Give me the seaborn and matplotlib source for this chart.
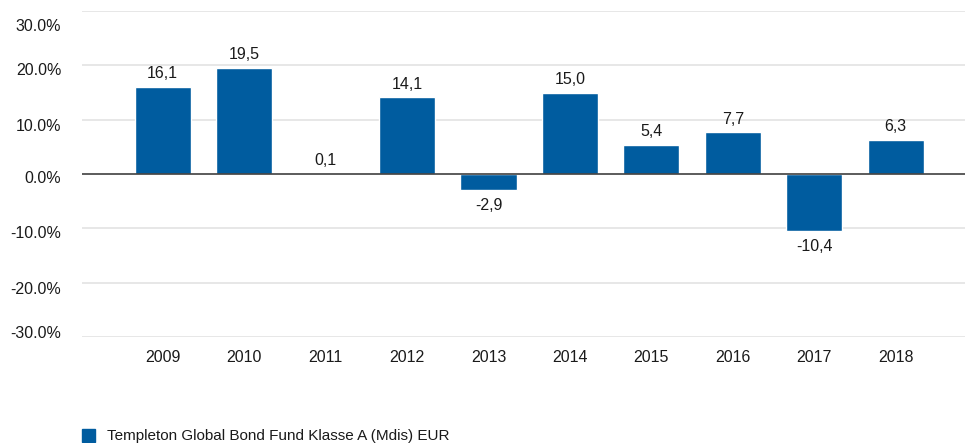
import matplotlib
matplotlib.use("Agg")
import matplotlib.pyplot as plt
import matplotlib.transforms as mtransforms
import seaborn as sns
import pandas as pd

years = ["2009", "2010", "2011", "2012", "2013", "2014", "2015", "2016", "2017", "2018"]
values = [16.1, 19.5, 0.1, 14.1, -2.9, 15.0, 5.4, 7.7, -10.4, 6.3]
labels = ["16,1", "19,5", "0,1", "14,1", "-2,9", "15,0", "5,4", "7,7", "-10,4", "6,3"]
yticks = [30, 20, 10, 0, -10, -20, -30]
ytick_labels = ["30.0%", "20.0%", "10.0%", "0.0%", "-10.0%", "-20.0%", "-30.0%"]
series_name = "Templeton Global Bond Fund Klasse A (Mdis) EUR"

# layout: vertical nudge (in pixels, positive = down) of each y tick label
ytick_nudge_px = [14, 4, 5, 3, 4, 5, -5]

sns.set_theme(style="white")
plt.rcParams["font.family"] = ["Liberation Sans", "DejaVu Sans"]

df = pd.DataFrame({"year": years, "value": values})
color = "#005C9F"

fig = plt.figure(figsize=(9.65, 4.43), dpi=100)
ax = fig.add_axes([82 / 965, 1 - 337 / 443, 1 - 82 / 965, (337 - 11) / 443])

sns.barplot(data=df, x="year", y="value", color=color, width=0.69,
            saturation=1, ax=ax, zorder=3)

ax.set_ylim(-30, 30)
ax.set_xlim(-0.99, 9.85)
ax.set_yticks(yticks)
ax.set_yticklabels(ytick_labels)
for y in yticks:
    if y == 0:
        ax.axhline(0, color="#404040", lw=1.2, zorder=4)
    else:
        ax.axhline(y, color="#e3e3e3", lw=1.2, zorder=1)

for i, (v, lab) in enumerate(zip(values, labels)):
    if v >= 0:
        ax.annotate(lab, (i, v), xytext=(0, 4), textcoords="offset points",
                    ha="center", va="bottom", fontsize=11.5, color="#1a1a1a")
    else:
        ax.annotate(lab, (i, v), xytext=(0, -6), textcoords="offset points",
                    ha="center", va="top", fontsize=11.5, color="#1a1a1a")

for s in ax.spines.values():
    s.set_visible(False)
ax.set_xlabel("")
ax.set_ylabel("")
ax.tick_params(axis="y", length=0, pad=15, labelsize=11.5, labelcolor="#1a1a1a")
ax.tick_params(axis="x", length=0, pad=9, labelsize=11.5, labelcolor="#1a1a1a")

for lab, nudge in zip(ax.get_yticklabels(), ytick_nudge_px):
    lab.set_transform(lab.get_transform() +
                      mtransforms.ScaledTranslation(0, -nudge / 100, fig.dpi_scale_trans))

fig.patches.append(plt.Rectangle((82 / 965, 1 - 442 / 443), 13 / 965, 13 / 443,
                                 transform=fig.transFigure, color=color))
fig.text(107 / 965, 1 - 436 / 443, series_name, fontsize=11, color="#1a1a1a",
         va="center", ha="left")

fig.savefig("out.png", dpi=100)
